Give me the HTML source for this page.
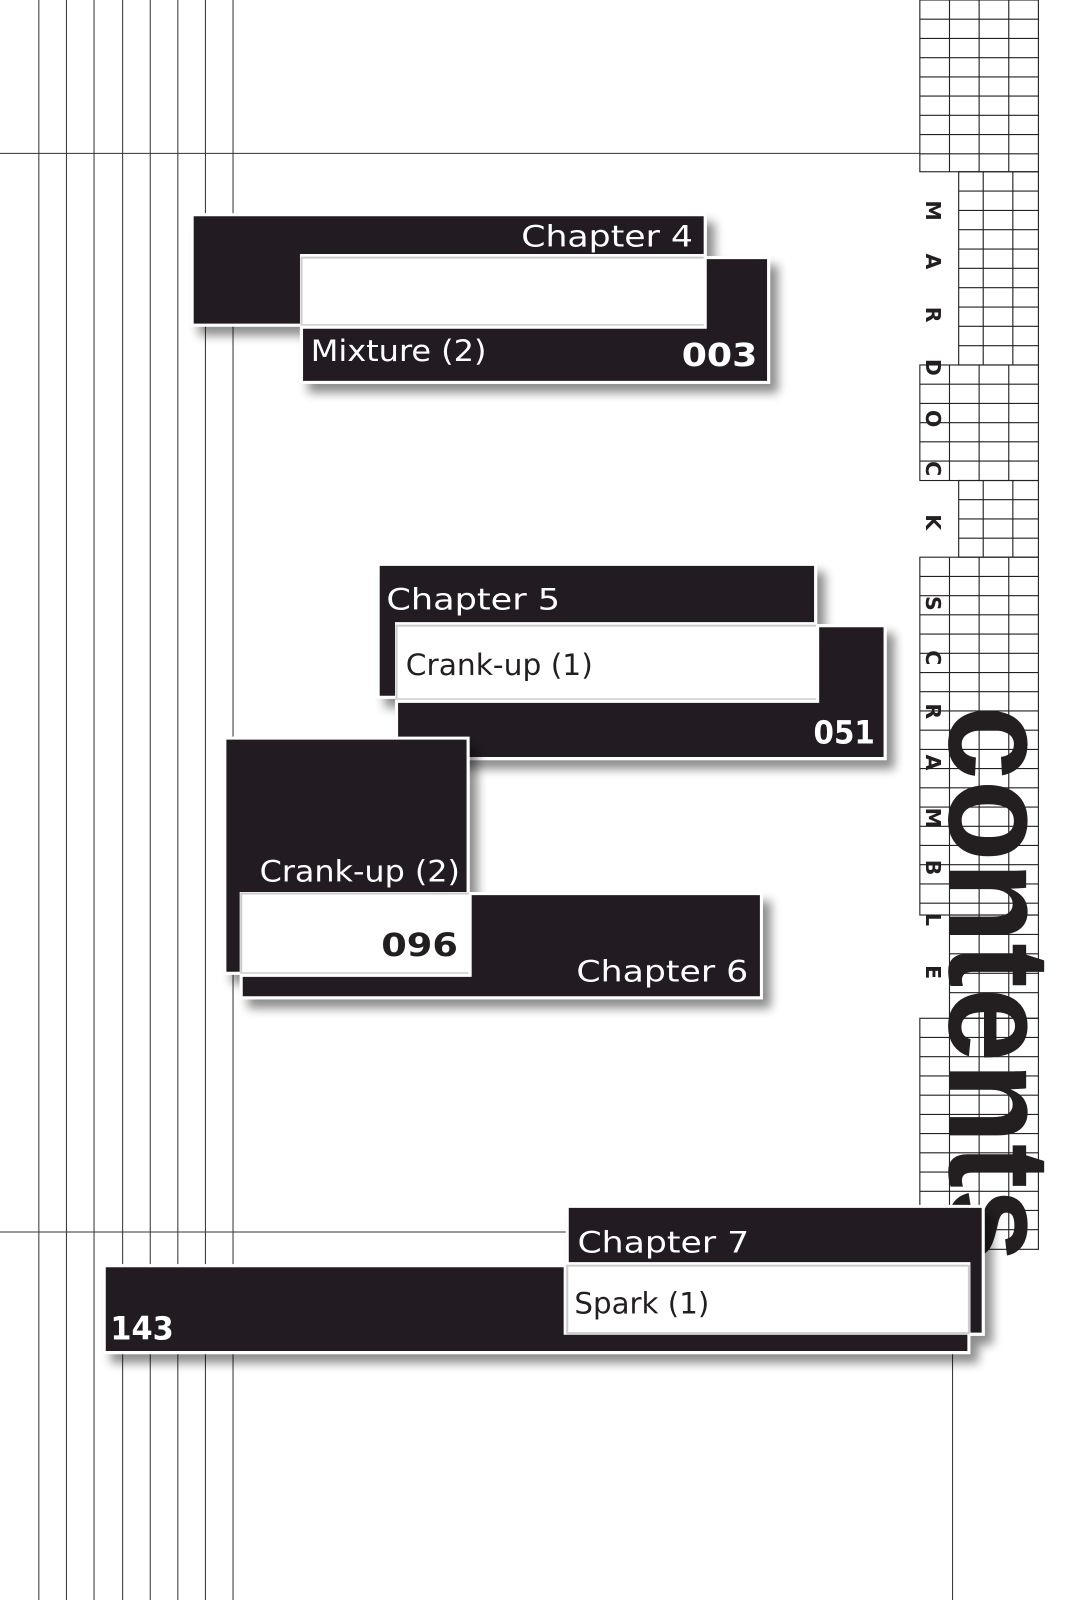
<!DOCTYPE html>
<html><head><meta charset="utf-8"><style>
html,body{margin:0;padding:0;background:#fff;width:1066px;height:1600px;overflow:hidden}
svg{display:block}
.t{font-family:"DejaVu Sans Condensed","Liberation Sans Narrow","DejaVu Sans",sans-serif;fill:#fff;font-size:29px}
.n{font-family:"DejaVu Sans Condensed","Liberation Sans Narrow",sans-serif;font-weight:bold;fill:#fff;font-size:31px}
.k{fill:#231f20}
.ml{font-family:"DejaVu Sans","Liberation Sans",sans-serif;font-weight:bold;font-size:20px;fill:#231f20}
</style></head><body>
<svg width="1066" height="1600" viewBox="0 0 1043 1565" preserveAspectRatio="none" xmlns="http://www.w3.org/2000/svg">
<defs>
<filter id="sh" x="-10%" y="-20%" width="130%" height="160%">
<feGaussianBlur in="SourceAlpha" stdDeviation="5"/>
<feOffset dx="8" dy="9" result="o"/>
<feComponentTransfer><feFuncA type="linear" slope="0.45"/></feComponentTransfer>
<feMerge><feMergeNode/><feMergeNode in="SourceGraphic"/></feMerge>
</filter>
</defs>
<g stroke="#333" stroke-width="1" fill="none">
<line x1="38" y1="0" x2="38" y2="1565"/><line x1="65" y1="0" x2="65" y2="1565"/>
<line x1="92" y1="0" x2="92" y2="1565"/><line x1="120" y1="0" x2="120" y2="1565"/>
<line x1="147" y1="0" x2="147" y2="1565"/><line x1="174" y1="0" x2="174" y2="1565"/>
<line x1="201" y1="0" x2="201" y2="1565"/><line x1="228" y1="0" x2="228" y2="1565"/>
<line x1="0" y1="150" x2="900" y2="150"/>
<line x1="0" y1="1205" x2="555" y2="1205"/>
<line x1="932" y1="1220" x2="932" y2="1565"/>
</g>
<!-- grid -->
<g stroke="#222" stroke-width="1.1" fill="none" id="grid">
<rect x="900" y="0" width="116" height="168"/>
<path d="M929 0V168M958 0V168M987 0V168"/>
<path d="M900 18.8H1016M900 37.6H1016M900 56.4H1016M900 75.2H1016M900 94H1016M900 112.8H1016M900 131.6H1016M900 150.4H1016"/>
<rect x="938" y="168" width="78" height="189"/>
<path d="M962 168V357M991 168V357"/>
<path d="M938 186.9H1016M938 205.8H1016M938 224.7H1016M938 243.6H1016M938 262.5H1016M938 281.4H1016M938 300.3H1016M938 319.2H1016M938 338.1H1016"/>
<rect x="900" y="357" width="116" height="113"/>
<path d="M929 357V470M958 357V470M987 357V470"/>
<path d="M900 375.8H1016M900 394.6H1016M900 413.4H1016M900 432.2H1016M900 451H1016"/>
<rect x="938" y="470" width="78" height="75"/>
<path d="M962 470V545M991 470V545"/>
<path d="M938 488.8H1016M938 507.6H1016M938 526.4H1016"/>
<rect x="900" y="545" width="116" height="350"/>
<path d="M929 545V895M958 545V895M987 545V895"/>
<path d="M900 563.8H1016M900 582.6H1016M900 601.4H1016M900 620.2H1016M900 639H1016M900 657.8H1016M900 676.6H1016M900 695.4H1016M900 714.2H1016M900 733H1016M900 751.8H1016M900 770.6H1016M900 789.4H1016M900 808.2H1016M900 827H1016M900 845.8H1016M900 864.6H1016M900 883.4H1016"/>
<rect x="929" y="895" width="87" height="101"/>
<path d="M958 895V996M987 895V996M929 914H1016M929 933H1016M929 952H1016M929 971H1016"/>
<rect x="900" y="996" width="116" height="226"/>
<path d="M929 996V1222M958 996V1222M987 996V1222"/>
<path d="M900 1014.8H1016M900 1033.6H1016M900 1052.4H1016M900 1071.2H1016M900 1090H1016M900 1108.8H1016M900 1127.6H1016M900 1146.4H1016M900 1165.2H1016M900 1184H1016M900 1202.8H1016"/>
</g>
<!-- vertical title letters -->
<g class="ml">
<text transform="translate(906,196) rotate(90)">M</text>
<text transform="translate(906,248) rotate(90)">A</text>
<text transform="translate(906,300) rotate(90)">R</text>
<text transform="translate(906,351) rotate(90)">D</text>
<text transform="translate(906,401) rotate(90)">O</text>
<text transform="translate(906,451) rotate(90)">C</text>
<text transform="translate(906,503) rotate(90)">K</text>
<text transform="translate(906,583) rotate(90)">S</text>
<text transform="translate(906,636) rotate(90)">C</text>
<text transform="translate(906,688) rotate(90)">R</text>
<text transform="translate(906,738) rotate(90)">A</text>
<text transform="translate(906,790) rotate(90)">M</text>
<text transform="translate(906,841) rotate(90)">B</text>
<text transform="translate(906,893) rotate(90)">L</text>
<text transform="translate(906,944) rotate(90)">E</text>
</g>
<text transform="translate(929,690) rotate(90)" textLength="545" lengthAdjust="spacingAndGlyphs" style="font-family:'Liberation Sans Narrow','Liberation Sans',sans-serif;font-weight:bold;font-size:142px;fill:#231f20">contents</text>

<!-- Chapter 4 -->
<g filter="url(#sh)" stroke="#fff" stroke-width="3">
<polygon class="k" points="188,210 690,210 690,250 295,250 295,318 188,318"/>
<rect x="295" y="252" width="395" height="66" fill="#fff" stroke="#ccc" stroke-width="2"/>
<polygon class="k" points="690,252 752,252 752,374 295,374 295,320 690,320"/>
</g>
<text class="t" x="510" y="241" textLength="168" lengthAdjust="spacingAndGlyphs">Chapter 4</text>
<text class="t" x="304" y="353" textLength="172" lengthAdjust="spacingAndGlyphs">Mixture (2)</text>
<text class="n" x="667" y="358" textLength="74" lengthAdjust="spacingAndGlyphs">003</text>

<!-- Chapter 5 -->
<g filter="url(#sh)" stroke="#fff" stroke-width="3">
<polygon class="k" points="370,552 798,552 798,610 388,610 388,682 370,682"/>
<rect x="388" y="612" width="412" height="72" fill="#fff" stroke="#ccc" stroke-width="2"/>
<polygon class="k" points="800,612 866,612 866,742 388,742 388,686 800,686"/>
</g>
<text class="t" x="378" y="596" textLength="170" lengthAdjust="spacingAndGlyphs">Chapter 5</text>
<text class="t" x="397" y="660" textLength="183" lengthAdjust="spacingAndGlyphs" style="fill:#231f20">Crank-up (1)</text>
<text class="n" x="796" y="727" textLength="60" lengthAdjust="spacingAndGlyphs">051</text>

<!-- Chapter 6 -->
<g filter="url(#sh)" stroke="#fff" stroke-width="3">
<polygon class="k" points="220,722 458,722 458,874 236,874 236,952 220,952"/>
<rect x="236" y="874" width="224" height="78" fill="#fff" stroke="#ccc" stroke-width="2"/>
<polygon class="k" points="460,874 745,874 745,976 236,976 236,954 460,954"/>
</g>
<text class="t" x="254" y="862" textLength="196" lengthAdjust="spacingAndGlyphs">Crank-up (2)</text>
<text class="n" x="373" y="935" textLength="75" lengthAdjust="spacingAndGlyphs" style="fill:#231f20">096</text>
<text class="t" x="564" y="960" textLength="168" lengthAdjust="spacingAndGlyphs">Chapter 6</text>

<!-- Chapter 7 -->
<g filter="url(#sh)" stroke="#fff" stroke-width="3">
<polygon class="k" points="555,1180 962,1180 962,1305 948,1305 948,1236 555,1236"/>
<polygon class="k" points="102,1238 553,1238 553,1304 948,1304 948,1323 102,1323"/>
<rect x="555" y="1238" width="393" height="66" fill="#fff" stroke="#ccc" stroke-width="2"/>
</g>
<text class="t" x="565" y="1225" textLength="168" lengthAdjust="spacingAndGlyphs">Chapter 7</text>
<text class="t" x="562" y="1285" textLength="132" lengthAdjust="spacingAndGlyphs" style="fill:#231f20">Spark (1)</text>
<text class="n" x="108" y="1310" textLength="62" lengthAdjust="spacingAndGlyphs">143</text>
</svg>
</body></html>
